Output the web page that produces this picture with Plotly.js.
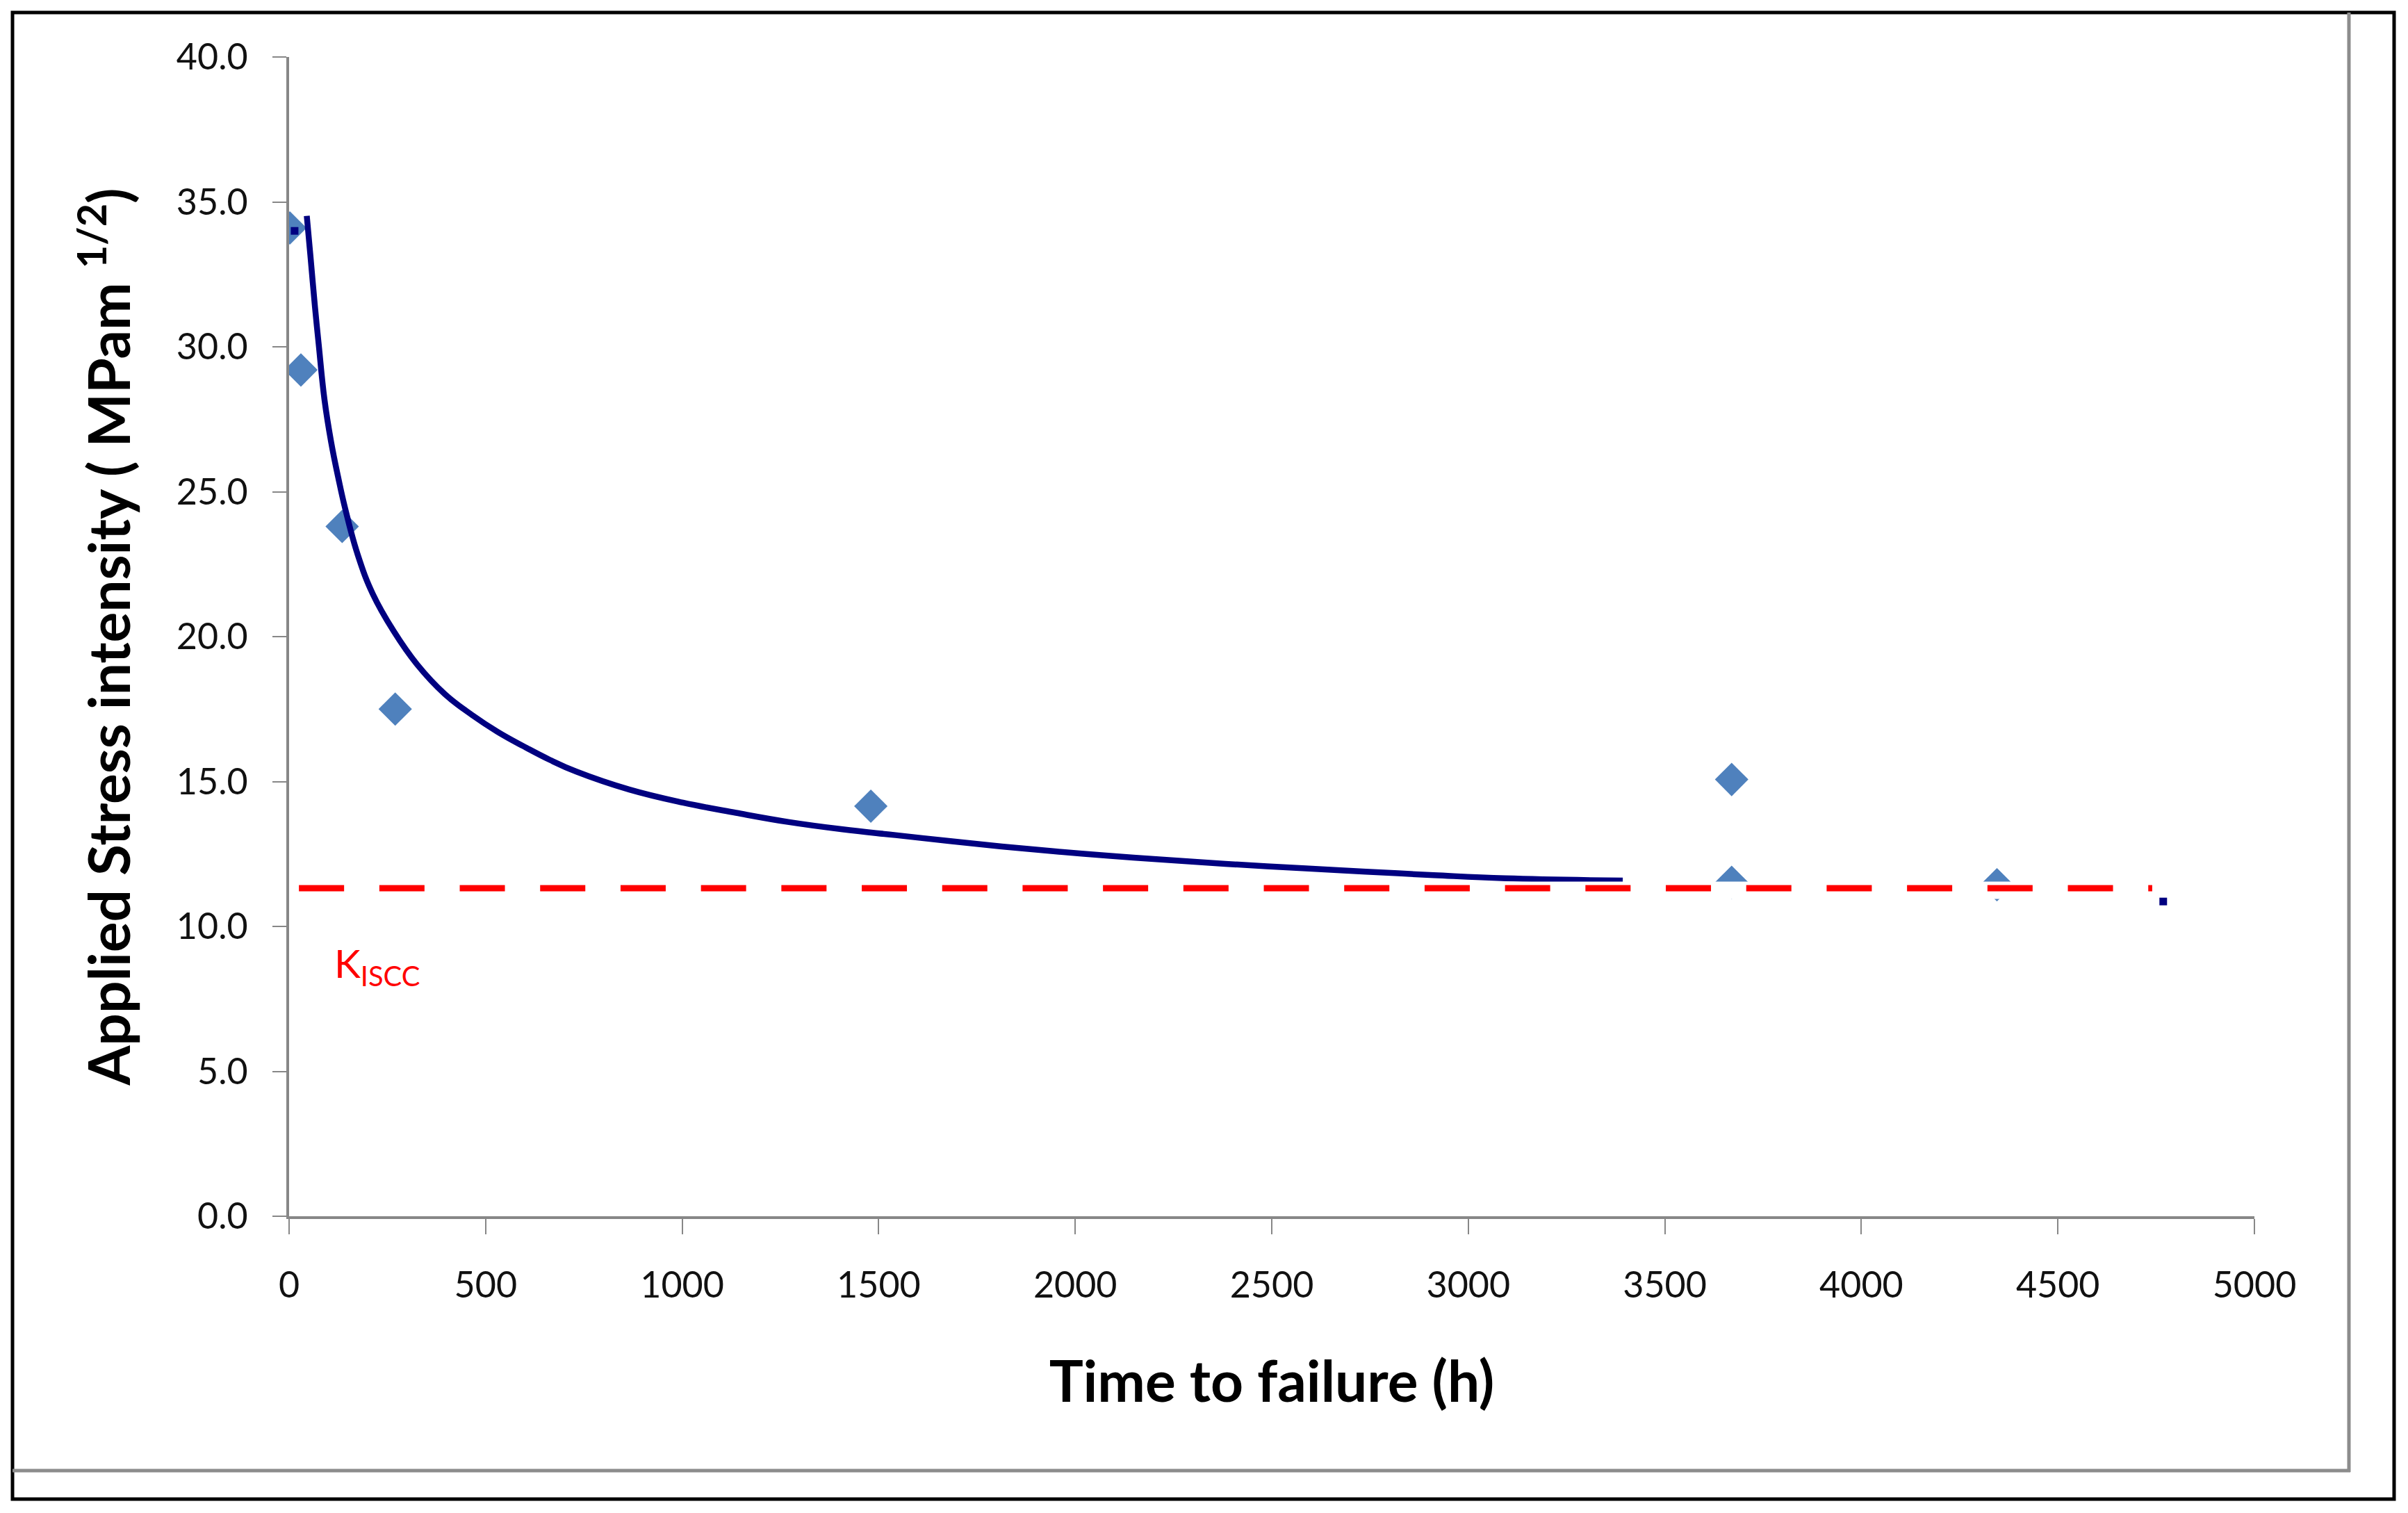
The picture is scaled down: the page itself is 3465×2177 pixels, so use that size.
<!DOCTYPE html>
<html>
<head>
<meta charset="utf-8">
<script src="https://cdn.plot.ly/plotly-3.0.1.min.js"></script>
<style>
html, body { margin: 0; padding: 0; background: #ffffff; }
#chart { width: 3465px; height: 2177px; }
</style>
</head>
<body>
<div id="chart"></div>
<script>
// ---- data ----
const timeH   = [2, 30, 135, 270, 1480, 3670, 3670, 4345];
const stressK = [34.1, 29.2, 23.8, 17.5, 14.15, 15.07, 11.52, 11.44];

const fitTime = [45, 54, 66, 75, 90, 107, 125, 143, 175, 213, 266, 325, 396, 465, 530, 596, 663, 731, 866,
                 1002, 1137, 1272, 1408, 1543, 1678, 1813, 1949, 2084, 2219, 2382, 2587, 2740, 2912, 3095, 3393];
const fitK    = [34.52, 33.18, 31.35, 30.13, 28.18, 26.71, 25.49, 24.40, 22.81, 21.47, 20.19, 19.05, 18.02, 17.30,
                 16.72, 16.22, 15.75, 15.34, 14.72, 14.27, 13.92, 13.60, 13.35, 13.15, 12.95, 12.76, 12.59, 12.44,
                 12.31, 12.16, 12.00, 11.89, 11.77, 11.66, 11.58];

const kisccTime = [25, 4740];
const kisccK    = [11.32, 11.32];

const tailTime = [14, 4768];
const tailK    = [34.0, 10.86];

const coverTime = [2950, 4736, 4736, 2950];
const coverK    = [11.547, 11.547, 10.95, 10.95];

const xTickVals = [0, 500, 1000, 1500, 2000, 2500, 3000, 3500, 4000, 4500, 5000];
const yTickVals = [0, 5, 10, 15, 20, 25, 30, 35, 40];

const xTitle = 'Time to failure (h)';
const yTitle = 'Applied Stress intensity ( MPam <sup>1/2</sup>)';
const kLabel = 'K<sub>ISCC</sub>';
const kLabelTime = 112;
const kLabelK = 8.65;

// ---- geometry ----
const W = 3465, H = 2177;
const M = { l: 416, r: 221, t: 82, b: 427 };
const plotW = W - M.l - M.r, plotH = H - M.t - M.b;
const px2x = p => (p - M.l) / plotW;
const py2y = p => (H - M.b - p) / plotH;

const FONT = 'Lato, "Open Sans", "DejaVu Sans", sans-serif';
const AXIS_GRAY = '#878787';

const traces = [
  {
    x: timeH, y: stressK, type: 'scatter', mode: 'markers',
    marker: { symbol: 'diamond', size: 37, color: '#4F81BD', line: { width: 0 } },
    hoverinfo: 'x+y'
  },
  {
    x: fitTime, y: fitK, type: 'scatter', mode: 'lines',
    line: { color: '#000080', width: 8.5, shape: 'spline', smoothing: 1.2 },
    hoverinfo: 'skip'
  },
  {
    x: coverTime, y: coverK, type: 'scatter', mode: 'none',
    fill: 'toself', fillcolor: '#ffffff', hoverinfo: 'skip'
  },
  {
    x: kisccTime, y: kisccK, type: 'scatter', mode: 'lines',
    line: { color: '#FF0000', width: 9, dash: '65px,50.7px' },
    hoverinfo: 'skip'
  },
  {
    x: tailTime, y: tailK, type: 'scatter', mode: 'markers',
    marker: { symbol: 'square', size: 11, color: '#000080', line: { width: 0 } },
    hoverinfo: 'skip'
  }
];

const layout = {
  width: W, height: H,
  margin: { l: M.l, r: M.r, t: M.t, b: M.b, pad: 0 },
  paper_bgcolor: '#ffffff', plot_bgcolor: '#ffffff',
  showlegend: false,
  font: { family: FONT, color: '#000000' },
  xaxis: {
    range: [0, 5000], tickmode: 'array', tickvals: xTickVals,
    tickformat: 'd',
    showgrid: false, zeroline: false,
    showline: true, linecolor: AXIS_GRAY, linewidth: 4,
    ticks: 'outside', ticklen: 22, tickwidth: 2, tickcolor: AXIS_GRAY,
    tickfont: { family: FONT, size: 52, color: '#111111' },
    ticklabelstandoff: 29,
    automargin: false,
    title: { text: xTitle, font: { family: FONT, size: 82, color: '#000000', weight: 'bold' }, standoff: 83 }
  },
  yaxis: {
    range: [0, 40], tickmode: 'array', tickvals: yTickVals,
    tickformat: '.1f',
    showgrid: false, zeroline: false,
    showline: true, linecolor: AXIS_GRAY, linewidth: 4,
    ticks: 'outside', ticklen: 20, tickwidth: 2, tickcolor: AXIS_GRAY,
    tickfont: { family: FONT, size: 52, color: '#111111' },
    ticklabelstandoff: 25,
    automargin: false,
    title: { text: yTitle, font: { family: FONT, size: 82, color: '#000000', weight: 'bold' }, standoff: 40 }
  },
  annotations: [
    {
      x: kLabelTime, y: kLabelK, xref: 'x', yref: 'y',
      text: kLabel, showarrow: false, xanchor: 'left', yanchor: 'middle',
      font: { family: FONT, size: 57, color: '#FF0000' }
    }
  ],
  shapes: [
    { type: 'rect', xref: 'paper', yref: 'paper',
      x0: px2x(18), x1: px2x(3445), y0: py2y(2157), y1: py2y(18),
      line: { color: '#000000', width: 5 }, fillcolor: 'rgba(0,0,0,0)', layer: 'below' },
    { type: 'line', xref: 'paper', yref: 'paper',
      x0: px2x(3380), x1: px2x(3380), y0: py2y(18), y1: py2y(2118),
      line: { color: '#8c8c8c', width: 5 } },
    { type: 'line', xref: 'paper', yref: 'paper',
      x0: px2x(18), x1: px2x(3382), y0: py2y(2116), y1: py2y(2116),
      line: { color: '#8c8c8c', width: 5 } }
  ]
};

Plotly.newPlot('chart', traces, layout, { staticPlot: true, displayModeBar: false });
</script>
</body>
</html>
